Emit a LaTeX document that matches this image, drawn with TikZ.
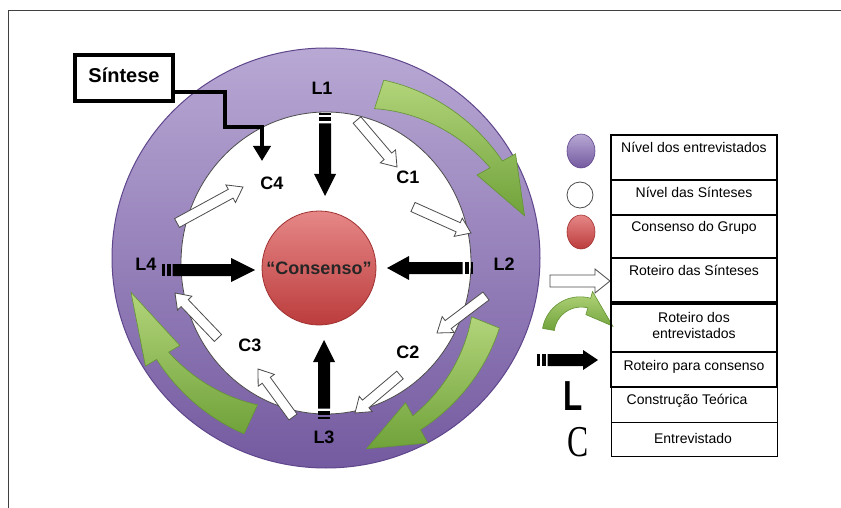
\documentclass[tikz,border=0pt]{standalone}
\usepackage{fontspec}
\setmainfont{Liberation Sans}
\newfontfamily\seriffont{Liberation Serif}
\usetikzlibrary{arrows.meta,calc}

\definecolor{ringtop}{RGB}{184,168,212}
\definecolor{ringbot}{RGB}{116,90,160}
\definecolor{ringedge}{RGB}{95,70,140}
\definecolor{redtop}{RGB}{230,135,135}
\definecolor{redbot}{RGB}{188,60,60}
\definecolor{rededge}{RGB}{160,50,50}
\definecolor{gtop}{RGB}{178,212,122}
\definecolor{gbot}{RGB}{112,162,58}
\definecolor{gedge}{RGB}{100,148,52}

\tikzset{
  lbl/.style={font=\bfseries\fontsize{18}{18}\selectfont},
  legtext/.style={font=\fontsize{14}{16}\selectfont, align=center, inner sep=0},
  warrowstyle/.style={fill=white, draw=black!70, line width=0.8},
  greenstyle/.style={top color=gtop, bottom color=gbot, draw=gedge, line width=0.6},
  cellthick/.style={draw, line width=2.2},
  cellthin/.style={draw, line width=1},
  synline/.style={line width=4, -{Triangle[width=17pt,length=15pt]}}
}

% white block arrow: x1 y1 x2 y2 shafthalf headhalf headlen
\newcommand\wblock[7]{%
  \pgfmathsetmacro\baang{atan2(-(#4-#2),#3-#1)}%
  \pgfmathsetmacro\balen{veclen(#3-#1,#4-#2)}%
  \begin{scope}[shift={(#1,#2)},rotate=\baang]
    \path[warrowstyle] (0,-#5) -- ({\balen-#7},-#5) -- ({\balen-#7},-#6) -- (\balen,0)
      -- ({\balen-#7},#6) -- ({\balen-#7},#5) -- (0,#5) -- cycle;
  \end{scope}}

% black striped block arrow
\newcommand\sblock[7]{%
  \pgfmathsetmacro\baang{atan2(-(#4-#2),#3-#1)}%
  \pgfmathsetmacro\balen{veclen(#3-#1,#4-#2)}%
  \begin{scope}[shift={(#1,#2)},rotate=\baang]
    \fill (0,-#5) rectangle (2.5,#5);
    \fill (4.5,-#5) rectangle (8.5,#5);
    \fill (10.5,-#5) -- ({\balen-#7},-#5) -- ({\balen-#7},-#6) -- (\balen,0)
      -- ({\balen-#7},#6) -- ({\balen-#7},#5) -- (10.5,#5) -- cycle;
  \end{scope}}

% green curved arrow: center, a1, a2, r1, r2, w0, w1, headwidth, headfraction
\newcommand\greenarr[9]{%
  \pgfmathsetmacro\gah{#2+(#3-#2)*#9}%
  \pgfmathsetmacro\grh{#4+(#5-#4)*#9}%
  \begin{scope}[shift={(#1)}]
    \path[greenstyle]
      plot[domain=0:#9,samples=30,variable=\t] ({#2+(#3-#2)*\t}:{#4+(#5-#4)*\t+(#6+(#7-#6)*\t/#9)/2})
      -- (\gah:{\grh+#8/2}) -- (#3:#5) -- (\gah:{\grh-#8/2})
      -- plot[domain=#9:0,samples=30,variable=\t] ({#2+(#3-#2)*\t}:{#4+(#5-#4)*\t-(#6+(#7-#6)*\t/#9)/2})
      -- cycle;
  \end{scope}}

\begin{document}
\begin{tikzpicture}[x=1pt,y=-1pt]
\useasboundingbox (0,0) rectangle (841,508);
\fill[white] (0,0) rectangle (841,508);
% frame
\draw[black!75, line width=1] (8,508) -- (8,11) -- (841,11);

% ring
\path[top color=ringtop, bottom color=ringbot, draw=ringedge, line width=1]
  (326,258) ellipse [x radius=214, y radius=210];
\draw[fill=white, draw=black!70, line width=0.8] (326,263) ellipse [x radius=145, y radius=151];

% green curved arrows
\greenarr{326,258}{-72}{-12}{172}{203}{30}{14}{44}{0.72}
\greenarr{326,258}{22}{78}{172}{195}{30}{16}{46}{0.70}
\greenarr{326,258}{115}{170}{178}{198}{32}{14}{40}{0.62}

% consensus
\node[circle, minimum size=114, inner sep=0, top color=redtop, bottom color=redbot,
  draw=rededge, line width=0.8, lbl, text=black!85] (cons) at (319,268) {``Consenso''};

% black striped arrows
\sblock{325}{113}{325}{196}{6}{11}{22}
\sblock{324}{419}{324}{340}{6}{11}{22}
\sblock{162}{270}{255}{270}{6}{12}{24}
\sblock{473}{268}{387}{268}{6}{12}{22}

% white arrows
\wblock{357}{120}{397}{167}{5}{10}{14}
\wblock{413}{207}{471}{233}{5}{10}{14}
\wblock{486}{296}{437}{333}{5}{10}{14}
\wblock{400}{375}{355}{413}{5}{10}{14}
\wblock{293}{417}{258}{369}{5}{10}{14}
\wblock{218}{338}{175}{293}{5}{10}{14}
\wblock{177}{223}{243}{187}{5}{10}{14}

% labels
\node[lbl] (l1) at (322,88) {L1};
\node[lbl] (c1) at (408,177) {C1};
\node[lbl] (l2) at (504,264) {L2};
\node[lbl] (c2) at (408,352) {C2};
\node[lbl] (l3) at (324,437) {L3};
\node[lbl] (c3) at (250,345) {C3};
\node[lbl] (l4) at (146,264) {L4};
\node[lbl] (c4) at (272,183) {C4};

% Sintese
\node[draw, line width=4.5, minimum width=98, minimum height=46, inner sep=0,
  font=\bfseries\fontsize{20}{20}\selectfont, text depth=5pt] (sintese) at (124,78) {Síntese};
\coordinate (c4in) at (262,161);
\draw[synline] (sintese.south east) ++(0,-11) -| (225,127) -| (c4in);

% legend symbols
\path[top color=ringtop, bottom color=ringbot, draw=ringedge, line width=0.6]
  (581,151) ellipse [x radius=14, y radius=17];
\draw[black!70, fill=white, line width=0.8] (580,195) ellipse [x radius=13, y radius=13];
\path[top color=redtop, bottom color=redbot, draw=rededge, line width=0.6]
  (581,232) ellipse [x radius=14, y radius=17];
\wblock{550}{281}{610}{281}{6}{12}{15}
\greenarr{580,335}{190}{345}{32}{34}{12}{10}{24}{0.62}
\sblock{537}{360}{598}{360}{6}{10}{15}
\node (legL) at (573,396) {\scalebox{0.75}[1]{\bfseries\fontsize{42}{42}\selectfont L}};
\node (legC) at (578,442) {\seriffont\scalebox{0.72}[1]{\fontsize{44}{44}\selectfont C}};

% legend table
\draw[cellthick] (611,135) rectangle (777,180);
\draw[cellthick] (611,180) rectangle (777,215);
\draw[cellthick] (611,215) rectangle (777,258);
\draw[cellthick] (611,258) rectangle (777,303);
\draw[cellthick] (611,303) rectangle (777,352);
\draw[cellthick] (611,352) rectangle (777,387);
\draw[line width=4] (611,303) -- (777,303);
\draw[cellthin] (611,387) rectangle (777,422);
\draw[cellthin] (611,422) rectangle (777,456);

\node[legtext] (t1) at (694,147) {Nível dos entrevistados};
\node[legtext] (t2) at (694,192) {Nível das Sínteses};
\node[legtext] (t3) at (694,228) {Consenso do Grupo};
\node[legtext] (t4) at (694,270) {Roteiro das Sínteses};
\node[legtext] (t5) at (694,325) {Roteiro dos\\entrevistados};
\node[legtext] (t6) at (694,367) {Roteiro para consenso};
\node[legtext] (t7) at (687,401) {Construção Teórica};
\node[legtext] (t8) at (693,438) {Entrevistado};
\end{tikzpicture}
\end{document}
